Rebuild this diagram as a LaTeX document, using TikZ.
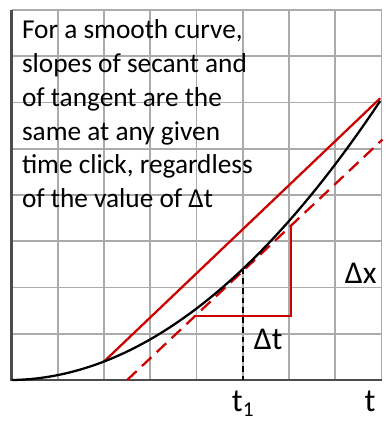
\documentclass[tikz,border=0pt]{standalone}
\usepackage{fontspec}
\setmainfont{Carlito}
\begin{document}
\begin{tikzpicture}[
  gridline/.style={draw=black!33, line width=1.1pt},
  axisline/.style={draw=black!70, line width=1.8pt},
  curveline/.style={draw=black, line width=1.4pt},
  redline/.style={draw=red!80!black, line width=1.4pt},
  reddash/.style={draw=red!80!black, line width=1.4pt, dash pattern=on 8pt off 4.5pt},
  blackdash/.style={draw=black, line width=1.1pt, dash pattern=on 3.5pt off 2.5pt},
  txt/.style={anchor=base west, inner sep=0pt, font=\fontsize{16.8}{20}\selectfont},
  lbl/.style={anchor=base, inner sep=0pt, font=\fontsize{19.5}{23}\selectfont},
  tlbl/.style={anchor=base, inner sep=0pt, font=\fontsize{20}{24}\selectfont}
]
\useasboundingbox (-0.249,-0.886) rectangle (8.14,8.216);
% grid
\foreach \i in {1,...,8} {
  \draw[gridline] (\i,0) -- (\i,8);
  \draw[gridline] (0,\i) -- (8,\i);
}
% axes
\draw[axisline] (0,8) -- (0,0) -- (8,0);
% text
\node[txt] (l1) at (0.22,7.388) {For a smooth curve,};
\node[txt] (l2) at (0.22,6.655) {slopes of secant and};
\node[txt] (l3) at (0.22,5.922) {of tangent are the};
\node[txt] (l4) at (0.22,5.189) {same at any given};
\node[txt] (l5) at (0.22,4.456) {time click, regardless};
\node[txt] (l6) at (0.22,3.723) {of the value of Δt};
% key points
\coordinate (A) at (2,0.4);
\coordinate (B) at (7.97,6.09);
\coordinate (P) at (5,2.415);
\coordinate (P0) at (5,0);
\coordinate (D1) at (2.5,0);
\coordinate (D2) at (8.02,5.2);
\coordinate (T1) at (3.95,1.39);
\coordinate (T2) at (6.05,1.39);
\coordinate (T3) at (6.05,3.31);
% secant
\draw[redline] (A) -- (B);
% tangent (dashed)
\draw[reddash] (D1) -- (D2);
% triangle
\draw[redline] (T1) -- (T2) -- (T3);
% vertical dashed at t1
\draw[blackdash] (P) -- (P0);
% curve
\draw[curveline] plot[domain=0:7.97, samples=80, smooth] (\x,{0.0933*\x*\x+0.0133*\x});
% labels
\node[lbl] (dx) at (7.55,2.09) {Δx};
\node[lbl] (dt) at (5.55,0.66) {Δt};
\node[tlbl] (t1) at (5.0,-0.69) {t\raisebox{-3pt}{\fontsize{13}{15}\selectfont 1}};
\node[tlbl] (t) at (7.75,-0.69) {t};
\end{tikzpicture}
\end{document}
